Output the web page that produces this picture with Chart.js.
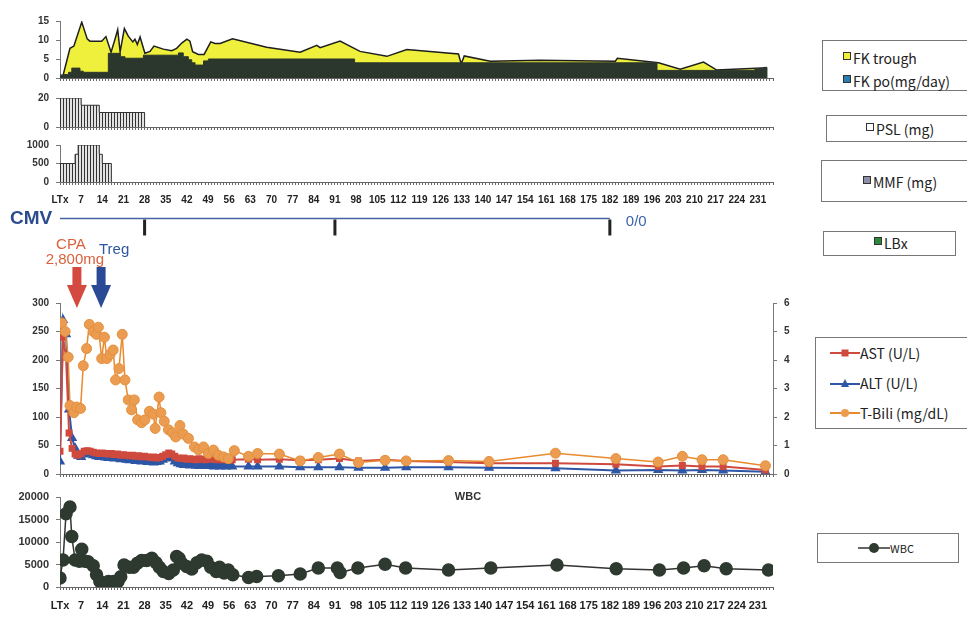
<!DOCTYPE html>
<html>
<head>
<meta charset="utf-8">
<script src="https://cdn.jsdelivr.net/npm/chart.js@4.4.1/dist/chart.umd.min.js"></script>
<style>
  body { margin:0; width:967px; height:617px; overflow:hidden; position:relative; background:#fff; }
  canvas { position:absolute; left:0; }
  .box { position:absolute; border:1px solid #777; background:#fff; font-family:"Noto Sans CJK JP","Noto Sans",sans-serif; color:#222; }
  .item { position:absolute; white-space:nowrap; font-size:14px; line-height:16px; display:flex; align-items:center; }
  .sq { display:inline-block; width:6px; height:6px; border:1px solid #333; margin-right:2px; margin-top:-5px; }
</style>
</head>
<body>
<canvas id="fk" width="790" height="83" style="top:8px"></canvas>
<canvas id="psl" width="790" height="55" style="top:85px"></canvas>
<canvas id="mmf" width="790" height="76" style="top:132px"></canvas>
<canvas id="cmv" width="790" height="40" style="top:203px"></canvas>
<canvas id="liver" width="800" height="259" style="top:228px"></canvas>
<canvas id="wbc" width="790" height="137" style="top:480px"></canvas>

<div class="box" style="left:822px;top:40px;width:160px;height:49px">
  <div class="item" style="left:20px;top:9px"><span class="sq" style="background:#eef03c"></span>FK trough</div>
  <div class="item" style="left:20px;top:32px"><span class="sq" style="background:#2a7db0"></span>FK po(mg/day)</div>
</div>
<div class="box" style="left:826px;top:115px;width:160px;height:25px">
  <div class="item" style="left:39px;top:5px"><span class="sq" style="background:#fff"></span>PSL (mg)</div>
</div>
<div class="box" style="left:821px;top:160px;width:160px;height:40px">
  <div class="item" style="left:41px;top:13px"><span class="sq" style="background:#8e8ea6"></span>MMF (mg)</div>
</div>
<div class="box" style="left:823px;top:231px;width:131px;height:23px">
  <div class="item" style="left:50px;top:3px"><span class="sq" style="background:#2a8a3a"></span>LBx</div>
</div>
<div class="box" style="left:815px;top:337px;width:160px;height:90px">
  <div class="item" style="left:14px;top:7px"><svg width="30" height="10"><line x1="0" y1="5" x2="30" y2="5" stroke="#cf4a3e" stroke-width="2"/><rect x="11.5" y="1.5" width="7" height="7" fill="#cf4a3e"/></svg>AST (U/L)</div>
  <div class="item" style="left:14px;top:37px"><svg width="30" height="10"><line x1="0" y1="6" x2="30" y2="6" stroke="#2e56a6" stroke-width="2"/><polygon points="15,1 19,9 11,9" fill="#2e56a6"/></svg>ALT (U/L)</div>
  <div class="item" style="left:14px;top:67px"><svg width="30" height="10"><line x1="0" y1="5" x2="30" y2="5" stroke="#e88a2e" stroke-width="2"/><circle cx="15" cy="5" r="4" fill="#eb9c50"/></svg>T-Bili (mg/dL)</div>
</div>
<div class="box" style="left:817px;top:533px;width:140px;height:28px">
  <div class="item" style="left:40px;top:6px;font-size:11px"><svg width="32" height="12"><line x1="0" y1="6" x2="32" y2="6" stroke="#333" stroke-width="1.5"/><circle cx="16" cy="6" r="5" fill="#2e3a30"/></svg>WBC</div>
</div>

<script>
// x axis labels (days after LTx)
var tickLabels = ['LTx','7','14','21','28','35','42','49','56','63','70','77','84','91','98','105','112','119',
  '126','133','140','147','154','161','168','175','182','189','196','203','210','217','224','231'];

// FK trough (ng/mL) and FK po dose (mg/day)
var fkTroughDay = [0.8,3.3,4.6,7.2,9.0,9.9,13.8,15.2,16.9,18.2,19.1,19.9,21.3,22.6,24.1,24.8,25.6,26.5,28.1,29.8,
  31.1,34.2,37.0,38.6,40.3,42.0,43.0,43.9,45.8,47.7,49.9,51.3,53.0,57.1,68.4,79.5,85.0,86.1,92.7,99.3,
  108.2,114.8,131.9,132.8,133.8,142.4,158.9,183.8,184.5,198.1,205.3,213.0,217.4,234.0];
var fkTroughVal = [0,7.8,8.4,14.7,10.3,9.7,9.7,10.9,6.8,10.2,12.7,6.9,13.0,11.0,9.5,10.2,8.8,10.8,6.5,7.0,
  8.4,7.6,7.2,7.8,9.2,10.2,9.7,6.9,6.2,6.2,9.5,9.1,9.1,10.3,8.1,6.8,8.6,8.0,9.7,7.0,
  5.7,7.5,6.3,3.7,5.8,4.4,4.7,4.4,5.2,4.0,2.3,4.2,2.1,2.7];
var fkPoDay = [0,1,2.8,3.9,6.6,7.7,16,20,21.5,27.6,39.2,40.8,42.5,43.6,44.7,47.5,49.1,97.5,197.6,230,233,234];
var fkPoVal = [0.8,0.9,1.5,2.6,1.8,1.5,6.5,5.6,5.2,6.0,6.6,5.6,4.8,4.0,3.4,4.5,5.0,4.0,2.0,2.5,2.8,0];

// PSL and MMF (mg), dose changes
var pslDay = [0,7,13,28];
var pslDose = [20,15,10,0];
var mmfDay = [0,5,6,13,14,17];
var mmfDose = [500,750,1000,750,500,0];

// CMV antigenemia and liver biopsies
var cmvDays = [0,182];
var cmvResult = '0/0';
var lbxDays = [28,91,182];

// events
var eventDays = [5.6,13.6];
var eventText = [['CPA','2,800mg'],['Treg']];

// liver tests
var labDay = [0,1,2,3,4,5,6,7,8,9,10,11,12,13,14,15,16,17,18,19,20,21,22,23,24,25,26,27,28,29,
  30,31,32,33,34,35,36,37,38,39,40,41,42,43,44,45,46,47,48,49,50,51,52,53,54,55,56,57,
  62.4,65.4,72.6,79.5,85.5,92.5,98.8,107.6,114.6,128.6,142,164,184,198,206,212.5,219.5,233.5];
var astVal = [40,240,205,72,45,35,33,36,40,41,40,38,37,36,37,36,35,36,34,35,33,34,33,32,33,31,32,30,31,30,
  29,30,28,29,31,34,37,35,31,28,27,28,26,27,26,25,27,26,25,27,26,27,25,26,25,26,24,25,
  26,25,26,24,25,27,23,25,23,21,19,19,17,13,15,13,13,7];
var altVal = [22,270,245,113,63,45,32,30,34,37,36,33,31,30,31,29,28,29,27,28,26,27,25,24,25,23,24,22,23,21,
  22,20,21,22,25,28,30,27,22,19,17,16,17,15,16,15,14,15,14,15,14,13,14,13,14,13,14,13,
  13,13,13,12,12,12,11,11,12,12,11,10,6,7,6,7,6,4];
var tbDay = [0.6,1.7,2.7,3.3,4.6,5.5,6.8,7.7,8.8,9.7,11,12.1,12.7,13.8,14.7,15.5,16.6,17.6,18.4,19.5,
  20.6,21.5,22.6,23.7,24.6,25.7,27,28.1,29.6,30.9,31.5,32.8,33.4,34.5,35.9,37.2,38.3,39.7,40.8,42.5,
  44.5,45.8,47.5,49.1,50.8,52.4,54.1,55.7,57.7,62.4,65.4,72.6,79.5,85.5,92.5,98.8,107.6,114.6,
  128.6,142,164,184,198,206,212.5,219.5,233.5];
var tbVal = [5.3,5.0,4.1,2.4,2.15,2.35,2.3,3.8,4.4,5.25,5.0,4.9,5.15,4.05,4.8,4.05,4.2,4.35,3.3,3.7,
  4.9,3.3,2.6,2.25,2.6,1.9,1.8,1.9,2.2,2.1,1.6,2.7,2.15,1.85,1.55,1.45,1.3,1.7,1.4,1.25,
  0.95,0.85,0.95,0.72,0.84,0.66,0.6,0.54,0.82,0.62,0.72,0.7,0.46,0.58,0.7,0.4,0.48,0.46,
  0.47,0.44,0.73,0.54,0.42,0.62,0.5,0.5,0.29];

// WBC (/uL)
var wbcDay = [0,1,2,3.3,3.9,5,6.4,7.2,8.3,9.3,11,12.1,13.2,14.3,16,17.7,19.2,20.1,21.2,22.9,
  24.3,25.6,27,28.7,30.4,31.8,32.9,34.2,36,37.5,38.6,39.4,40.3,41.9,43.6,45.3,46.9,48.6,49.9,51.7,
  52.8,54.3,55.7,57.2,62.4,65.1,72.3,79.5,85.5,91.8,92.7,98.6,107.6,114.4,128.6,142.6,164.5,184.1,198.4,206.4,
  213.2,220.5,234.5];
var wbcVal = [2000,6000,16300,17800,11200,6000,5700,8400,5700,5600,4700,2700,1240,130,1240,1200,1200,2300,4900,4400,
  4400,5300,5900,5900,6400,5400,4400,3450,3000,3800,6800,6400,5300,4550,4000,5400,6000,5700,4400,3450,
  4400,3100,3800,2700,2100,2340,2500,2870,4200,4200,3200,4200,5070,4200,3800,4200,4900,4040,3800,4200,
  4700,4040,3800];

function pts(xs, ys) {
  return xs.map(function(x, i) { return {x: x, y: ys[i]}; });
}

var tickFont = {family: 'Liberation Sans', size: 10, weight: 'bold'};

function dayLabel(v) {
  var d = Math.round(v);
  return d % 7 === 0 && tickLabels[d / 7] !== undefined ? tickLabels[d / 7] : '';
}

function xAxis(showLabels, h, font, pad) {
  return {
    type: 'linear', min: 0, max: 236,
    afterFit: function(s) { s.height = h; },
    ticks: {stepSize: 1, autoSkip: false, maxRotation: 0, minRotation: 0, display: showLabels,
      callback: dayLabel, font: font || tickFont, color: '#222', padding: pad || 2},
    grid: {drawOnChartArea: false, tickLength: 3, color: '#666'},
    border: {color: '#666'}
  };
}

function yAxis(max, step, pos, w, font) {
  return {
    min: 0, max: max, position: pos || 'left',
    afterFit: function(s) { s.width = w || 60; },
    ticks: {stepSize: step, font: font || tickFont, color: '#333', padding: 7,
      callback: function(v) { return String(v); }},
    grid: {drawOnChartArea: false, tickLength: 4, color: '#777'},
    border: {color: '#777'}
  };
}

function stripes() {
  var c = document.createElement('canvas');
  c.width = 3; c.height = 4;
  var g = c.getContext('2d');
  g.fillStyle = '#e2e2e2'; g.fillRect(0, 0, 3, 4);
  g.fillStyle = '#333'; g.fillRect(0, 0, 1, 4);
  return g.createPattern(c, 'repeat');
}

Chart.defaults.animation = false;
Chart.defaults.plugins.legend.display = false;
Chart.defaults.plugins.tooltip.enabled = false;
Chart.defaults.responsive = false;

// FK
new Chart(document.getElementById('fk'), {
  type: 'line',
  data: {datasets: [
    {label: 'FK po(mg/day)', data: pts(fkPoDay, fkPoVal), stepped: true, fill: 'origin',
      backgroundColor: '#2b372d', borderColor: '#2b372d', borderWidth: 1, pointRadius: 0, order: 1},
    {label: 'FK trough', data: pts(fkTroughDay, fkTroughVal), fill: 'origin',
      backgroundColor: '#eef03c', borderColor: '#1e1e1e', borderWidth: 1.5, pointRadius: 0, order: 2}
  ]},
  options: {
    layout: {padding: {top: 10, right: 17}},
    scales: {x: xAxis(false, 6), y: yAxis(15, 5)}
  }
});

// PSL
new Chart(document.getElementById('psl'), {
  type: 'line',
  data: {datasets: [
    {label: 'PSL (mg)', data: pts(pslDay, pslDose), stepped: true, fill: 'origin',
      backgroundColor: stripes(), borderColor: '#333', borderWidth: 1, pointRadius: 0}
  ]},
  options: {
    layout: {padding: {top: 10, right: 17}},
    scales: {x: xAxis(false, 6), y: yAxis(20, 20)}
  }
});

// MMF (its x axis carries the upper day labels)
new Chart(document.getElementById('mmf'), {
  type: 'line',
  data: {datasets: [
    {label: 'MMF (mg)', data: pts(mmfDay, mmfDose), stepped: true, fill: 'origin',
      backgroundColor: stripes(), borderColor: '#333', borderWidth: 1, pointRadius: 0}
  ]},
  options: {
    layout: {padding: {top: 10, right: 17}},
    scales: {x: xAxis(true, 26, tickFont, 9), y: yAxis(1000, 500)}
  }
});

// CMV / LBx row
var cmvText = {
  id: 'cmvText',
  afterDraw: function(chart) {
    var ctx = chart.ctx, y = chart.scales.y.getPixelForValue(0);
    var xe = chart.scales.x.getPixelForValue(cmvDays[cmvDays.length - 1]);
    ctx.save();
    ctx.textBaseline = 'middle';
    ctx.fillStyle = '#2b4c8e';
    ctx.font = 'bold 19px "Liberation Sans"';
    ctx.fillText('CMV', 10, y);
    ctx.fillStyle = '#3d64aa';
    ctx.font = '15px "Liberation Sans"';
    ctx.fillText(cmvResult, xe + 16, y + 3);
    ctx.restore();
  }
};
new Chart(document.getElementById('cmv'), {
  type: 'line',
  data: {datasets: [
    {label: 'CMV', data: cmvDays.map(function(d) { return {x: d, y: 'CMV'}; }),
      borderColor: '#4565a5', borderWidth: 1.5, pointRadius: 0},
    {type: 'scatter', label: 'LBx', data: lbxDays.map(function(d) { return {x: d, y: 'LBx'}; }),
      pointStyle: 'line', pointRotation: 90, pointRadius: 8, pointBorderColor: '#222', pointBorderWidth: 3}
  ]},
  options: {
    layout: {padding: {left: 60, right: 17}},
    scales: {
      x: {type: 'linear', min: 0, max: 236, display: false},
      y: {type: 'category', labels: ['CMV', 'LBx'], offset: true, display: false}
    }
  },
  plugins: [cmvText]
});

// liver tests
var arrows = {
  id: 'arrows',
  afterDraw: function(chart) {
    var ctx = chart.ctx, top = chart.chartArea.top, sx = chart.scales.x;
    var arrowColors = ['#d44a40', '#2a4a95'];
    var textColors = ['#d9603c', '#2f56a0'];
    ctx.save();
    eventDays.forEach(function(d, i) {
      var x = sx.getPixelForValue(d);
      ctx.fillStyle = arrowColors[i];
      ctx.fillRect(x - 4.5, top - 36, 9, 19);
      ctx.beginPath();
      ctx.moveTo(x - 10, top - 18);
      ctx.lineTo(x + 10, top - 18);
      ctx.lineTo(x, top + 5);
      ctx.closePath();
      ctx.fill();
      ctx.fillStyle = textColors[i];
      ctx.font = '15px "Liberation Sans"';
      ctx.textAlign = 'center';
      ctx.textBaseline = 'middle';
      if (i === 0) {
        ctx.fillText(eventText[i][0], x - 6, top - 58);
        ctx.fillText(eventText[i][1], x - 2, top - 43);
      } else {
        ctx.fillText(eventText[i][0], x + 13, top - 53);
      }
    });
    ctx.restore();
  }
};
new Chart(document.getElementById('liver'), {
  type: 'line',
  data: {datasets: [
    {label: 'T-Bili (mg/dL)', data: pts(tbDay, tbVal), yAxisID: 'y2', borderColor: '#e88a2e', borderWidth: 1.5,
      pointRadius: 5, pointBackgroundColor: '#eb9c50', pointBorderColor: '#e4913e', pointBorderWidth: 1, order: 1},
    {label: 'AST (U/L)', data: pts(labDay, astVal), yAxisID: 'y', borderColor: '#cf4a3e', borderWidth: 2,
      pointStyle: 'rect', pointRadius: 3.5, pointBackgroundColor: '#cf4a3e', pointBorderColor: '#cf4a3e', order: 2},
    {label: 'ALT (U/L)', data: pts(labDay, altVal), yAxisID: 'y', borderColor: '#2e56a6', borderWidth: 2,
      pointStyle: 'triangle', pointRadius: 4, pointBackgroundColor: '#2e56a6', pointBorderColor: '#2e56a6', order: 3}
  ]},
  options: {
    layout: {padding: {top: 75}},
    scales: {
      x: xAxis(false, 6),
      y: yAxis(300, 50),
      y2: yAxis(6, 1, 'right', 27)
    }
  },
  plugins: [arrows]
});

// WBC
var wbcTitle = {
  id: 'wbcTitle',
  afterDraw: function(chart) {
    var ctx = chart.ctx;
    ctx.save();
    ctx.fillStyle = '#333';
    ctx.font = 'bold 11px "Liberation Sans"';
    ctx.textAlign = 'center';
    ctx.textBaseline = 'middle';
    ctx.fillText('WBC', chart.chartArea.left + 408, chart.chartArea.top);
    ctx.restore();
  }
};
new Chart(document.getElementById('wbc'), {
  type: 'line',
  data: {datasets: [
    {label: 'WBC', data: pts(wbcDay, wbcVal), borderColor: '#333', borderWidth: 1.5,
      pointRadius: 6, pointBackgroundColor: '#2e3a30', pointBorderColor: '#2e3a30'}
  ]},
  options: {
    layout: {padding: {top: 17, right: 17}},
    scales: {
      x: xAxis(true, 30, {family: 'Liberation Sans', size: 11, weight: 'bold'}, 9),
      y: yAxis(20000, 5000, 'left', 60, {family: 'Liberation Sans', size: 11, weight: 'bold'})
    }
  },
  plugins: [wbcTitle]
});
</script>
</body>
</html>
